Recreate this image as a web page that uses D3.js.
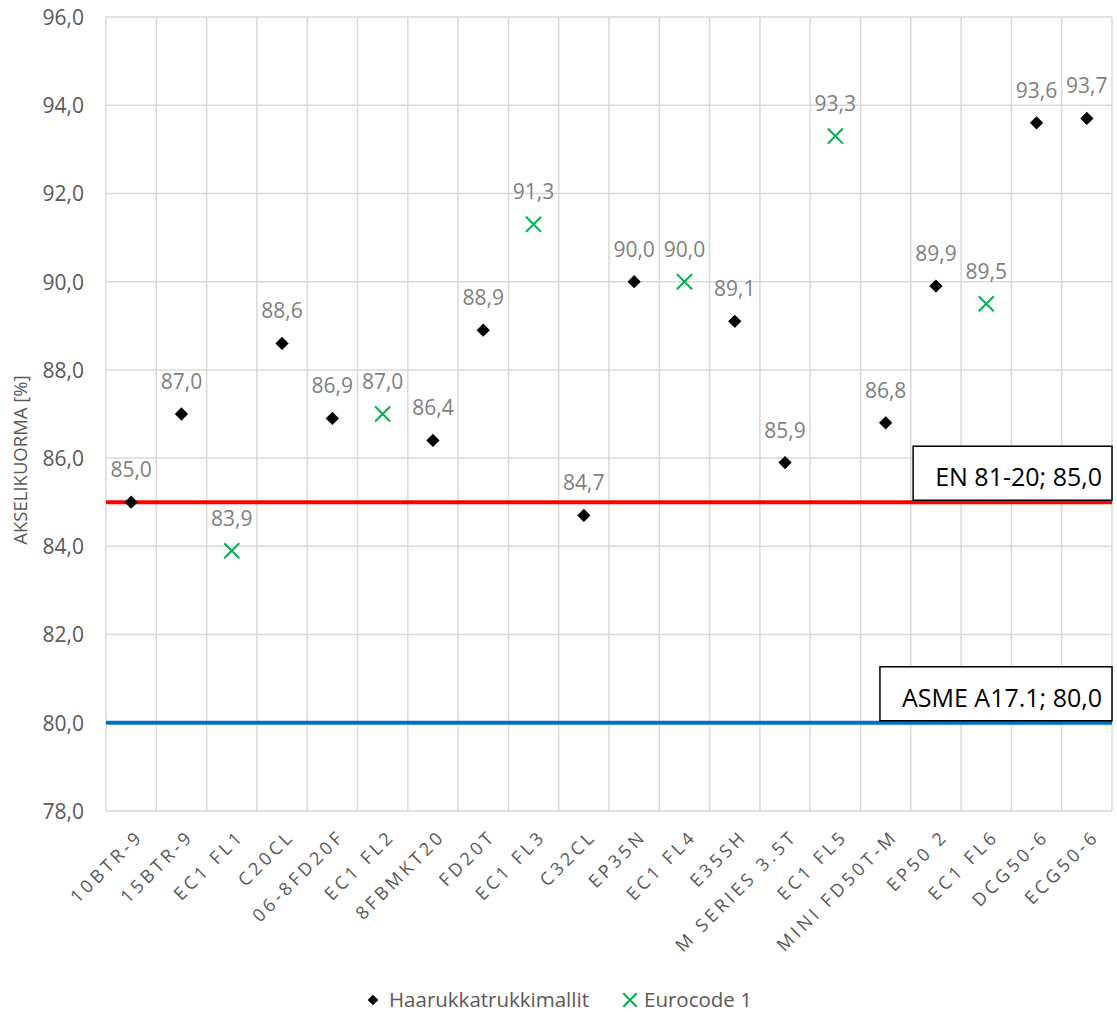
<!DOCTYPE html>
<html><head><meta charset="utf-8">
<script src="https://cdn.jsdelivr.net/npm/d3@7"></script>
<style>
html,body{margin:0;padding:0;background:#fff;}
svg{display:block;font-family:"Open Sans",sans-serif;}
</style></head>
<body>
<svg id="chart" width="1117" height="1012"></svg>
<script>
const categories = ["10BTR-9","15BTR-9","EC1 FL1","C20CL","06-8FD20F","EC1 FL2","8FBMKT20","FD20T","EC1 FL3","C32CL","EP35N","EC1 FL4","E35SH","M SERIES 3.5T","EC1 FL5","MINI FD50T-M","EP50 2","EC1 FL6","DCG50-6","ECG50-6"];
const forkliftValues = [85.0,87.0,null,88.6,86.9,null,86.4,88.9,null,84.7,90.0,null,89.1,85.9,null,86.8,89.9,null,93.6,93.7];
const eurocodeValues = [null,null,83.9,null,null,87.0,null,null,91.3,null,null,90.0,null,null,93.3,null,null,89.5,null,null];
const yTicks = [78,80,82,84,86,88,90,92,94,96];
const refLines = [{label:"EN 81-20; 85,0", value:85.0, color:"#FF0000"},{label:"ASME A17.1; 80,0", value:80.0, color:"#0070C0"}];
const seriesNames = ["Haarukkatrukkimallit","Eurocode 1"];
const yTitle = "AKSELIKUORMA [%]";

const fmt = v => v.toFixed(1).replace(".", ",");
const svg = d3.select("#chart");
const x = d3.scaleBand().domain(categories).range([106, 1112]).padding(0);
const y = d3.scaleLinear().domain([78, 96]).range([811, 17]);

// gridlines
const grid = svg.append("g");
grid.selectAll("line.h").data(yTicks).join("line")
  .attr("x1", x.range()[0]).attr("x2", x.range()[1])
  .attr("y1", d => y(d)).attr("y2", d => y(d))
  .attr("stroke", "#D9D9D9").attr("stroke-width", 1.5);
const vb = categories.map(c => x(c)).concat([x.range()[1]]);
grid.selectAll("line.v").data(vb).join("line")
  .attr("x1", d => d).attr("x2", d => d)
  .attr("y1", y(96)).attr("y2", y(78))
  .attr("stroke", "#D9D9D9").attr("stroke-width", 1.5);

// y axis labels
const yAxis = d3.axisLeft(y).tickValues(yTicks).tickFormat(fmt).tickSize(0).tickPadding(0);
const ya = svg.append("g").attr("transform", "translate(84,0)").call(yAxis);
ya.select(".domain").remove();
ya.selectAll("text").attr("font-size", 21).attr("fill", "#595959").attr("font-family", "Open Sans").attr("dy", "0.35em");

// x axis labels
const xAxis = d3.axisBottom(x).tickSize(0).tickPadding(0);
const xa = svg.append("g").attr("transform", "translate(0," + y(78) + ")").call(xAxis);
xa.select(".domain").remove();
xa.selectAll("text")
  .attr("font-size", 18).attr("fill", "#595959").attr("font-family", "Open Sans")
  .attr("letter-spacing", "3.6px")
  .attr("text-anchor", "end")
  .attr("transform", "translate(9,22) rotate(-45)")
  .attr("dy", "0.35em").attr("y", 0).attr("x", 0);

// y title
svg.append("text").attr("transform", "translate(27," + ((y(78) + y(96)) / 2 + 46) + ") rotate(-90)")
  .attr("text-anchor", "middle").attr("font-size", 18.5).attr("fill", "#595959").text(yTitle);

// reference lines
refLines.forEach(r => {
  svg.append("line").attr("x1", x.range()[0]).attr("x2", x.range()[1])
    .attr("y1", y(r.value)).attr("y2", y(r.value))
    .attr("stroke", r.color).attr("stroke-width", 4);
});

// data points
const fk = categories.map((c, i) => ({c, v: forkliftValues[i]})).filter(d => d.v != null);
const ec = categories.map((c, i) => ({c, v: eurocodeValues[i]})).filter(d => d.v != null);
const cx = c => x(c) + x.bandwidth() / 2;

svg.append("g").selectAll("path").data(fk).join("path")
  .attr("d", d3.symbol().type(d3.symbolDiamond2).size(112))
  .attr("transform", d => `translate(${cx(d.c)},${y(d.v)})`)
  .attr("fill", "#000");

svg.append("g").selectAll("path").data(ec).join("path")
  .attr("d", d3.symbol().type(d3.symbolTimes).size(150))
  .attr("transform", d => `translate(${cx(d.c)},${y(d.v)})`)
  .attr("fill", "none").attr("stroke", "#00B050").attr("stroke-width", 2);

// data labels
const labels = svg.append("g").attr("font-size", 21).attr("fill", "#7F7F7F").attr("text-anchor", "middle");
labels.selectAll("text").data(fk.concat(ec)).join("text")
  .attr("x", d => cx(d.c)).attr("y", d => y(d.v) - 25).text(d => fmt(d.v));

// reference labels
refLines.forEach(r => {
  const g = svg.append("g");
  const t = g.append("text").attr("font-size", 25).attr("fill", "#000").attr("text-anchor", "end")
    .attr("x", x.range()[1] - 10).attr("y", y(r.value) - 16).text(r.label);
  const bb = t.node().getBBox();
  g.insert("rect", "text")
    .attr("x", bb.x - 22).attr("y", y(r.value) - 56)
    .attr("width", x.range()[1] - (bb.x - 22)).attr("height", 54)
    .attr("fill", "#fff").attr("stroke", "#000").attr("stroke-width", 1.5);
});

// legend
const lg = svg.append("g").attr("font-size", 20.5).attr("fill", "#595959");
lg.append("path").attr("d", d3.symbol().type(d3.symbolDiamond2).size(72)).attr("transform", "translate(373,1000)").attr("fill", "#000");
lg.append("text").attr("x", 389).attr("y", 1000).attr("dy", "0.35em").text(seriesNames[0]);
lg.append("path").attr("d", d3.symbol().type(d3.symbolTimes).size(120)).attr("transform", "translate(630,1000)").attr("fill", "none").attr("stroke", "#00B050").attr("stroke-width", 2);
lg.append("text").attr("x", 644).attr("y", 1000).attr("dy", "0.35em").text(seriesNames[1]);
</script>
</body></html>
